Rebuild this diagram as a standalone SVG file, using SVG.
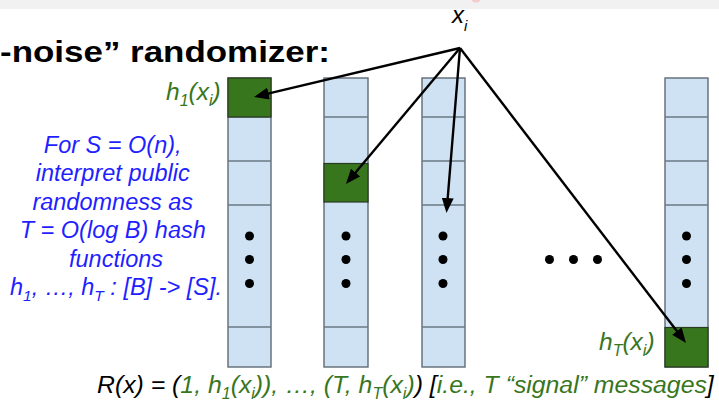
<svg xmlns="http://www.w3.org/2000/svg" width="719" height="407" viewBox="0 0 719 407">
<style>
.cell{fill:#cfe2f3;stroke:#5f6a75;stroke-width:1.4}
.grn{fill:#38761d;stroke:#2a3a22;stroke-width:1.2}
.div{stroke:#6b7885;stroke-width:1.6}
.dot{fill:#000}
.conn{stroke:#000;stroke-width:2.4;fill:none;marker-end:url(#ah)}
.t{font-family:"Liberation Sans",Arial,sans-serif;font-style:italic}
.blue{fill:#1f1fff;font-size:23.5px}
.green{fill:#38761d}
.blk{fill:#000}
</style>
<defs>
<marker id="ah" markerUnits="userSpaceOnUse" markerWidth="16" markerHeight="12" refX="5" refY="6" orient="auto">
<path d="M0,0 L15,6 L0,12 z" fill="#000"/>
</marker>
</defs>
<rect width="719" height="407" fill="#fff"/>
<rect x="0" y="0" width="719" height="9" fill="#f1f1f1"/>
<ellipse cx="476" cy="0" rx="4" ry="2.5" fill="#f5caca"/>
<text x="0" y="62" font-family="'Liberation Sans',Arial,sans-serif" font-weight="bold" font-size="30" textLength="330" lengthAdjust="spacingAndGlyphs" fill="#000">-noise” randomizer:</text>

<g id="col1">
<rect class="cell" x="228" y="78" width="43" height="289"/>
<line class="div" x1="228" y1="117" x2="271" y2="117"/>
<line class="div" x1="228" y1="161" x2="271" y2="161"/>
<line class="div" x1="228" y1="205" x2="271" y2="205"/>
<line class="div" x1="228" y1="327" x2="271" y2="327"/>
<rect class="grn" x="228" y="78" width="43" height="39"/>
<circle class="dot" cx="249.5" cy="236" r="4.5"/><circle class="dot" cx="249.5" cy="259.5" r="4.5"/><circle class="dot" cx="249.5" cy="283.5" r="4.5"/>
</g>
<g id="col2">
<rect class="cell" x="324" y="78" width="44" height="289"/>
<line class="div" x1="324" y1="117" x2="368" y2="117"/>
<line class="div" x1="324" y1="327" x2="368" y2="327"/>
<rect class="grn" x="324" y="163.5" width="44" height="38.5"/>
<circle class="dot" cx="346" cy="236" r="4.5"/><circle class="dot" cx="346" cy="259.5" r="4.5"/><circle class="dot" cx="346" cy="283.5" r="4.5"/>
</g>
<g id="col3">
<rect class="cell" x="422" y="78" width="43" height="289"/>
<line class="div" x1="422" y1="117" x2="465" y2="117"/>
<line class="div" x1="422" y1="161" x2="465" y2="161"/>
<line class="div" x1="422" y1="205" x2="465" y2="205"/>
<line class="div" x1="422" y1="327" x2="465" y2="327"/>
<circle class="dot" cx="443" cy="236" r="4.5"/><circle class="dot" cx="443" cy="259.5" r="4.5"/><circle class="dot" cx="443" cy="283.5" r="4.5"/>
</g>
<g id="col4">
<rect class="cell" x="665" y="78" width="43" height="289"/>
<line class="div" x1="665" y1="117" x2="708" y2="117"/>
<line class="div" x1="665" y1="161" x2="708" y2="161"/>
<line class="div" x1="665" y1="205" x2="708" y2="205"/>
<rect class="grn" x="665" y="327.5" width="43" height="39.5"/>
<circle class="dot" cx="686.5" cy="236" r="4.5"/><circle class="dot" cx="686.5" cy="259.5" r="4.5"/><circle class="dot" cx="686.5" cy="283.5" r="4.5"/>
</g>
<g id="hdots">
<circle class="dot" cx="549.5" cy="259.5" r="4.5"/><circle class="dot" cx="573.5" cy="259.5" r="4.5"/><circle class="dot" cx="597.5" cy="259.5" r="4.5"/>
</g>

<g id="xi">
<text class="t blk" x="452" y="23" font-size="24">x<tspan font-size="15" dy="8">i</tspan></text>
</g>

<g id="connectors">
<line class="conn" x1="460" y1="48" x2="263.7" y2="94.7"/>
<line class="conn" x1="460" y1="48" x2="352.4" y2="176.3"/>
<line class="conn" x1="460" y1="48" x2="447.3" y2="203"/>
<line class="conn" x1="460" y1="48" x2="679.9" y2="335.1"/>
</g>

<g id="label-h1">
<text class="t green" x="166" y="100" font-size="24.5">h<tspan font-size="16" dy="6">1</tspan><tspan dy="-6">(x</tspan><tspan font-size="16" dy="6">i</tspan><tspan dy="-6">)</tspan></text>
</g>
<g id="label-hT">
<text class="t green" x="599" y="350" font-size="24.5">h<tspan font-size="16" dy="6">T</tspan><tspan dy="-6">(x</tspan><tspan font-size="16" dy="6">i</tspan><tspan dy="-6">)</tspan></text>
</g>

<g id="note">
<text class="t blue" text-anchor="middle">
<tspan x="116" y="153">For S = O(n),</tspan>
<tspan x="116" y="181">interpret public</tspan>
<tspan x="116" y="210">randomness as</tspan>
<tspan x="116" y="238">T = O(log B) hash</tspan>
<tspan x="116" y="267">functions</tspan>
</text>
<text class="t blue" x="116" y="295" text-anchor="middle">h<tspan font-size="15.5" dy="6">1</tspan><tspan dy="-6">, …, h</tspan><tspan font-size="15.5" dy="6">T</tspan><tspan dy="-6"> : [B] -&gt; [S].</tspan></text>
</g>

<g id="formula">
<text class="t blk" x="97" y="393" font-size="24.8">R(x) = (<tspan class="green">1, h</tspan><tspan class="green" font-size="16" dy="6">1</tspan><tspan class="green" dy="-6">(x</tspan><tspan class="green" font-size="16" dy="6">i</tspan><tspan class="green" dy="-6">)), …, (T, h</tspan><tspan class="green" font-size="16" dy="6">T</tspan><tspan class="green" dy="-6">(x</tspan><tspan class="green" font-size="16" dy="6">i</tspan><tspan class="green" dy="-6">)</tspan>) [<tspan class="green">i.e., T “signal” messages</tspan>]</text>
</g>
</svg>
